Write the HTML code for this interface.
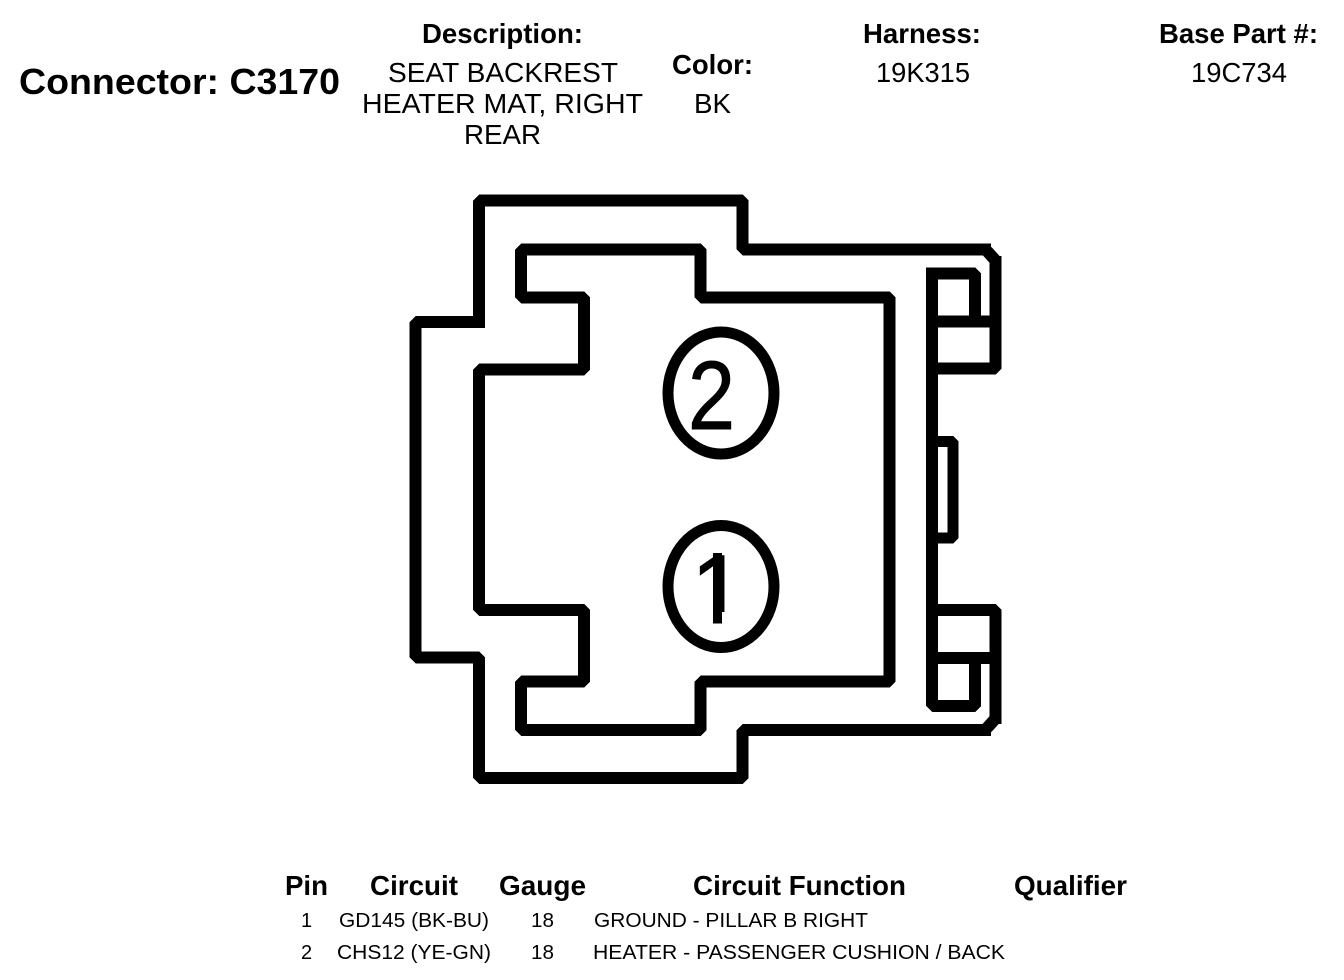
<!DOCTYPE html>
<html><head><meta charset="utf-8"><style>
html,body{margin:0;padding:0;background:#fff}
svg{display:block}
text{font-family:"Liberation Sans",Arial,sans-serif;fill:#000}
.b{font-weight:bold;font-size:28px}
.r{font-size:28px}
.s{font-size:20px}
</style></head><body>
<svg width="1344" height="980" viewBox="0 0 1344 980" xmlns="http://www.w3.org/2000/svg">
<rect width="1344" height="980" fill="#fff"/>
<text class="b" x="19" y="94" style="font-size:36px" textLength="321" lengthAdjust="spacingAndGlyphs">Connector: C3170</text>
<text class="b" x="422" y="43" textLength="161" lengthAdjust="spacingAndGlyphs">Description:</text>
<text class="r" x="388" y="82" textLength="230" lengthAdjust="spacingAndGlyphs">SEAT BACKREST</text>
<text class="r" x="362" y="113" textLength="281" lengthAdjust="spacingAndGlyphs">HEATER MAT, RIGHT</text>
<text class="r" x="464" y="144" textLength="77" lengthAdjust="spacingAndGlyphs">REAR</text>
<text class="b" x="672" y="74" textLength="81" lengthAdjust="spacingAndGlyphs">Color:</text>
<text class="r" x="694" y="113" textLength="37" lengthAdjust="spacingAndGlyphs">BK</text>
<text class="b" x="863" y="43" textLength="118" lengthAdjust="spacingAndGlyphs">Harness:</text>
<text class="r" x="876" y="82" textLength="94" lengthAdjust="spacingAndGlyphs">19K315</text>
<text class="b" x="1159" y="43" textLength="159" lengthAdjust="spacingAndGlyphs">Base Part #:</text>
<text class="r" x="1191" y="82" textLength="96" lengthAdjust="spacingAndGlyphs">19C734</text>

<g fill="none" stroke="#000" stroke-width="12" stroke-linejoin="bevel" stroke-linecap="square" shape-rendering="crispEdges">
<path d="M479 322V200.5H742.5V249.5H985"/>
<path d="M479 322H415.5V657.5H479V778H742.5V730H985"/>
<path d="M521 249.5H700.5V297.5H889.5V681.5H700.5V730H521V681.5H584V610H479V369.5H584V297.5H521Z"/>
<path d="M932 273.5V706H975V658M932 273.5H975V321M932 321.5H995.5M932 368.5H995.5V262M932 610H995.5V718M932 658H995.5"/>
<path d="M932 441.5H953V538H932" stroke-width="11"/>
</g>
<path d="M987 251L996 261M987 728L996 718" fill="none" stroke="#000" stroke-width="12"/>
<ellipse cx="721" cy="393" rx="53" ry="61" fill="none" stroke="#000" stroke-width="11"/>
<ellipse cx="721" cy="586.5" rx="53" ry="61" fill="none" stroke="#000" stroke-width="11"/>
<text x="688" y="429" style="font-size:97px;stroke:#000;stroke-width:1px" textLength="47" lengthAdjust="spacingAndGlyphs">2</text>
<text x="691" y="623" style="font-size:97px;stroke:#000;stroke-width:1px">1</text>
<rect x="692" y="612" width="21" height="13" fill="#fff"/>
<rect x="722" y="612" width="24" height="13" fill="#fff"/>
<rect x="713" y="553" width="9" height="70" fill="#000"/>

<text class="b" x="285" y="895" textLength="43" lengthAdjust="spacingAndGlyphs">Pin</text>
<text class="b" x="370" y="895" textLength="88" lengthAdjust="spacingAndGlyphs">Circuit</text>
<text class="b" x="499" y="895" textLength="87" lengthAdjust="spacingAndGlyphs">Gauge</text>
<text class="b" x="693" y="895" textLength="213" lengthAdjust="spacingAndGlyphs">Circuit Function</text>
<text class="b" x="1014" y="895" textLength="113" lengthAdjust="spacingAndGlyphs">Qualifier</text>
<text class="s" x="301" y="927">1</text>
<text class="s" x="339" y="927" textLength="150" lengthAdjust="spacingAndGlyphs">GD145 (BK-BU)</text>
<text class="s" x="531" y="927" textLength="23" lengthAdjust="spacingAndGlyphs">18</text>
<text class="s" x="594" y="927" textLength="274" lengthAdjust="spacingAndGlyphs">GROUND - PILLAR B RIGHT</text>
<text class="s" x="301" y="959">2</text>
<text class="s" x="337" y="959" textLength="154" lengthAdjust="spacingAndGlyphs">CHS12 (YE-GN)</text>
<text class="s" x="531" y="959" textLength="23" lengthAdjust="spacingAndGlyphs">18</text>
<text class="s" x="593" y="959" textLength="412" lengthAdjust="spacingAndGlyphs">HEATER - PASSENGER CUSHION / BACK</text>
</svg>
</body></html>
